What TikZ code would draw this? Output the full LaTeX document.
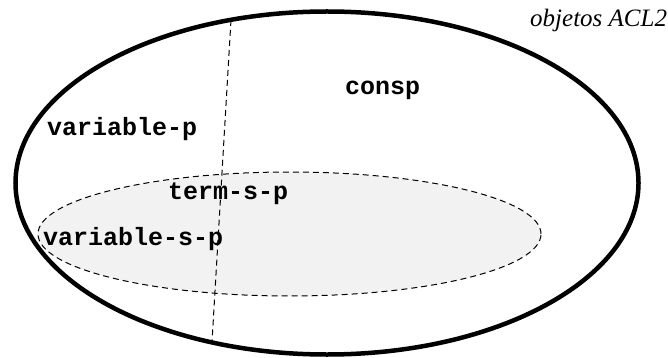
\documentclass[tikz,border=0pt]{standalone}
\usepackage{fontspec}
\setmainfont{Liberation Serif}
\setmonofont{Liberation Mono}

\tikzset{
  predname/.style={font=\fontsize{25}{30}\selectfont\ttfamily\bfseries, inner sep=0pt, anchor=base west},
  setname/.style={font=\fontsize{25}{30}\selectfont\itshape, inner sep=0pt, anchor=base west},
  splitline/.style={line width=1pt, dash pattern=on 6pt off 4pt}
}

\begin{document}
\begin{tikzpicture}[x=1pt,y=-1pt]
\useasboundingbox (0,0) rectangle (668,358);
\draw[line width=4.5pt] (327,183) ellipse [x radius=311.5pt, y radius=171.5pt];
\draw[splitline, fill=black!5] (289.5,234) ellipse [x radius=251.5pt, y radius=62pt];
\node[setname] (acl) at (530,27) {objetos ACL2};
\node[predname] (consp) at (345,95) {consp};
\node[predname] (varp) at (47,136) {variable-p};
\node[predname] (termsp) at (168,199) {term-s-p};
\node[predname] (varsp) at (43,245) {variable-s-p};
\coordinate (cuttop) at (231,20);
\coordinate (cutbot) at (212,342);
\draw[splitline] (cuttop) -- (cutbot);
\end{tikzpicture}
\end{document}
